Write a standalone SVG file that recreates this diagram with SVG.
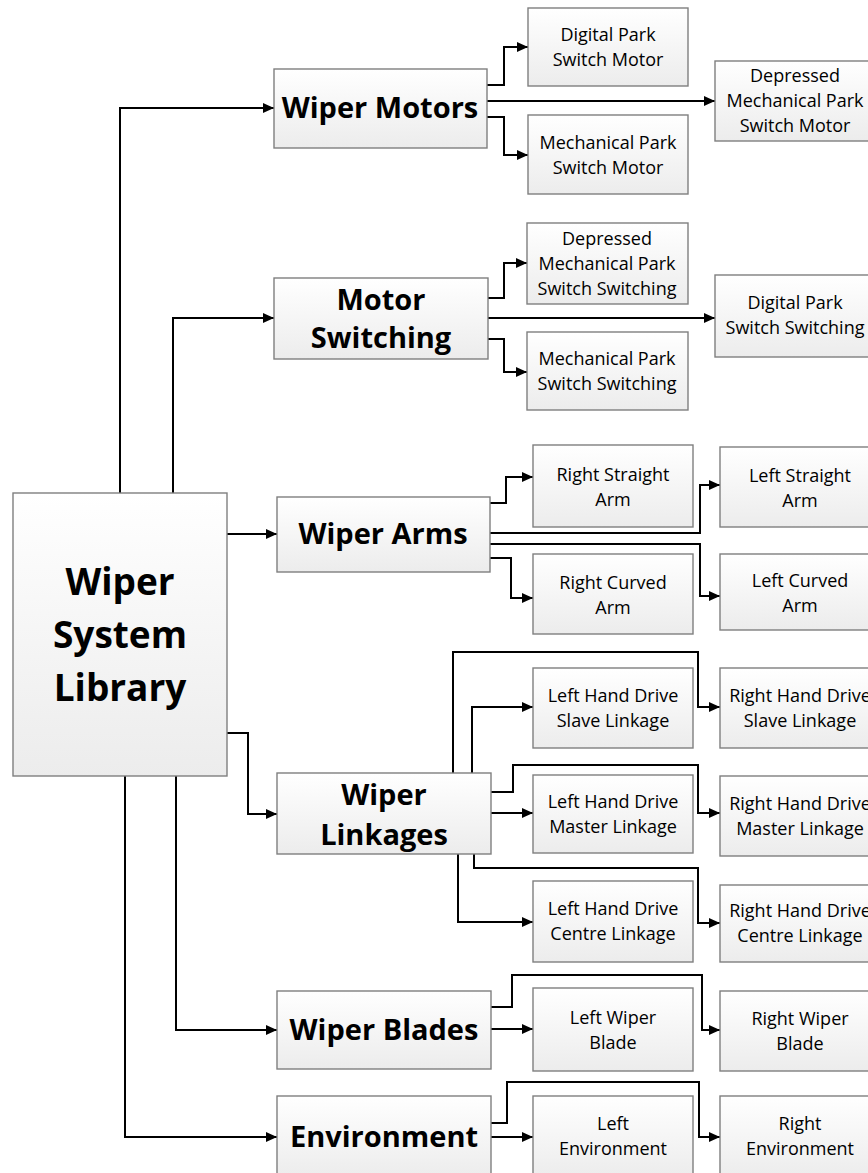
<svg xmlns="http://www.w3.org/2000/svg" width="868" height="1173" viewBox="0 0 868 1173">
  <defs>
    <linearGradient id="boxFill" x1="0" y1="0" x2="0" y2="1">
      <stop offset="0" stop-color="#ffffff"/>
      <stop offset="1" stop-color="#ececec"/>
    </linearGradient>
    <marker id="arrow" markerUnits="userSpaceOnUse" markerWidth="12" markerHeight="12" refX="11" refY="6" orient="auto">
      <path d="M0,1 L11,6 L0,11 z" fill="#000"/>
    </marker>
    <style>
      .box { fill: url(#boxFill); stroke: #7f7f7f; stroke-width: 1.4; }
      .title { font-family: "Open Sans", "Liberation Sans", sans-serif; font-weight: bold; font-size: 29px; fill: #000; text-anchor: middle; }
      .root { font-family: "Open Sans", "Liberation Sans", sans-serif; font-weight: bold; font-size: 37px; fill: #000; text-anchor: middle; }
      .leaf { font-family: "Open Sans", "Liberation Sans", sans-serif; font-size: 18px; fill: #000; text-anchor: middle; }
      .wire { fill: none; stroke: #000; stroke-width: 2; }
      .wire.arr { marker-end: url(#arrow); }
    </style>
  </defs>
  <rect width="868" height="1173" fill="#ffffff"/>

  <!-- connectors -->
  <g id="connectors">
    <!-- root to categories -->
    <path class="wire arr" d="M120,493 V108 H274"/>
    <path class="wire arr" d="M173,493 V318 H274"/>
    <path class="wire arr" d="M227,534 H277"/>
    <path class="wire arr" d="M227,733 H248 V814 H277"/>
    <path class="wire arr" d="M176,776 V1030 H277"/>
    <path class="wire arr" d="M125,776 V1137 H277"/>
    <!-- wiper motors -->
    <path class="wire arr" d="M487,85 H504 V47 H528"/>
    <path class="wire arr" d="M487,101 H715"/>
    <path class="wire arr" d="M487,117 H504 V155 H528"/>
    <!-- motor switching -->
    <path class="wire arr" d="M488,298 H504 V263 H527"/>
    <path class="wire arr" d="M488,318 H715"/>
    <path class="wire arr" d="M488,339 H504 V372 H527"/>
    <!-- wiper arms -->
    <path class="wire arr" d="M490,503 H506 V477 H533"/>
    <path class="wire arr" d="M490,533 H700 V485 H720"/>
    <path class="wire arr" d="M490,544 H700 V596 H720"/>
    <path class="wire arr" d="M490,558 H511 V598 H533"/>
    <!-- wiper linkages -->
    <path class="wire arr" d="M453,773 V652 H698 V707 H720"/>
    <path class="wire arr" d="M472,773 V707 H533"/>
    <path class="wire arr" d="M491,792 H513 V765 H698 V813 H720"/>
    <path class="wire arr" d="M491,813 H533"/>
    <path class="wire arr" d="M474,854 V868 H698 V923 H720"/>
    <path class="wire arr" d="M458,854 V922 H533"/>
    <!-- wiper blades -->
    <path class="wire arr" d="M491,1007 H512 V975 H702 V1030 H720"/>
    <path class="wire arr" d="M491,1029 H533"/>
    <!-- environment -->
    <path class="wire arr" d="M491,1123 H507 V1082 H699 V1137 H720"/>
    <path class="wire arr" d="M491,1137 H533"/>
  </g>

  <!-- root -->
  <g id="wiper-system-library">
    <rect class="box" x="13" y="493" width="214" height="283"/>
    <text class="root" x="120" y="595">Wiper</text>
    <text class="root" x="120" y="648">System</text>
    <text class="root" x="120" y="701">Library</text>
  </g>

  <!-- categories -->
  <g id="wiper-motors">
    <rect class="box" x="274" y="69" width="213" height="79"/>
    <text class="title" x="380" y="118">Wiper Motors</text>
  </g>
  <g id="motor-switching">
    <rect class="box" x="274" y="278" width="214" height="81"/>
    <text class="title" x="381" y="310">Motor</text>
    <text class="title" x="381" y="348">Switching</text>
  </g>
  <g id="wiper-arms">
    <rect class="box" x="277" y="497" width="213" height="75"/>
    <text class="title" x="383" y="544">Wiper Arms</text>
  </g>
  <g id="wiper-linkages">
    <rect class="box" x="277" y="773" width="214" height="81"/>
    <text class="title" x="384" y="805">Wiper</text>
    <text class="title" x="384" y="845">Linkages</text>
  </g>
  <g id="wiper-blades">
    <rect class="box" x="277" y="991" width="214" height="78"/>
    <text class="title" x="384" y="1040">Wiper Blades</text>
  </g>
  <g id="environment">
    <rect class="box" x="277" y="1096" width="214" height="82"/>
    <text class="title" x="384" y="1147">Environment</text>
  </g>

  <!-- motors -->
  <g id="digital-park-switch-motor">
    <rect class="box" x="528" y="8" width="160" height="78"/>
    <text class="leaf" x="608" y="41">Digital Park</text>
    <text class="leaf" x="608" y="66">Switch Motor</text>
  </g>
  <g id="mechanical-park-switch-motor">
    <rect class="box" x="528" y="115" width="160" height="79"/>
    <text class="leaf" x="608" y="149">Mechanical Park</text>
    <text class="leaf" x="608" y="174">Switch Motor</text>
  </g>
  <g id="depressed-mechanical-park-switch-motor">
    <rect class="box" x="715" y="61" width="160" height="80"/>
    <text class="leaf" x="795" y="82">Depressed</text>
    <text class="leaf" x="795" y="107">Mechanical Park</text>
    <text class="leaf" x="795" y="132">Switch Motor</text>
  </g>

  <!-- switching -->
  <g id="depressed-mechanical-park-switch-switching">
    <rect class="box" x="527" y="223" width="161" height="81"/>
    <text class="leaf" x="607" y="245">Depressed</text>
    <text class="leaf" x="607" y="270">Mechanical Park</text>
    <text class="leaf" x="607" y="295">Switch Switching</text>
  </g>
  <g id="mechanical-park-switch-switching">
    <rect class="box" x="527" y="332" width="161" height="78"/>
    <text class="leaf" x="607" y="365">Mechanical Park</text>
    <text class="leaf" x="607" y="390">Switch Switching</text>
  </g>
  <g id="digital-park-switch-switching">
    <rect class="box" x="715" y="275" width="160" height="82"/>
    <text class="leaf" x="795" y="309">Digital Park</text>
    <text class="leaf" x="795" y="334">Switch Switching</text>
  </g>

  <!-- arms -->
  <g id="right-straight-arm">
    <rect class="box" x="533" y="445" width="160" height="82"/>
    <text class="leaf" x="613" y="481">Right Straight</text>
    <text class="leaf" x="613" y="506">Arm</text>
  </g>
  <g id="right-curved-arm">
    <rect class="box" x="533" y="554" width="160" height="80"/>
    <text class="leaf" x="613" y="589">Right Curved</text>
    <text class="leaf" x="613" y="614">Arm</text>
  </g>
  <g id="left-straight-arm">
    <rect class="box" x="720" y="447" width="160" height="80"/>
    <text class="leaf" x="800" y="482">Left Straight</text>
    <text class="leaf" x="800" y="507">Arm</text>
  </g>
  <g id="left-curved-arm">
    <rect class="box" x="720" y="554" width="160" height="76"/>
    <text class="leaf" x="800" y="587">Left Curved</text>
    <text class="leaf" x="800" y="612">Arm</text>
  </g>

  <!-- linkages -->
  <g id="lhd-slave-linkage">
    <rect class="box" x="533" y="668" width="160" height="80"/>
    <text class="leaf" x="613" y="702">Left Hand Drive</text>
    <text class="leaf" x="613" y="727">Slave Linkage</text>
  </g>
  <g id="rhd-slave-linkage">
    <rect class="box" x="720" y="668" width="160" height="80"/>
    <text class="leaf" x="800" y="702">Right Hand Drive</text>
    <text class="leaf" x="800" y="727">Slave Linkage</text>
  </g>
  <g id="lhd-master-linkage">
    <rect class="box" x="533" y="775" width="160" height="78"/>
    <text class="leaf" x="613" y="808">Left Hand Drive</text>
    <text class="leaf" x="613" y="833">Master Linkage</text>
  </g>
  <g id="rhd-master-linkage">
    <rect class="box" x="720" y="776" width="160" height="80"/>
    <text class="leaf" x="800" y="810">Right Hand Drive</text>
    <text class="leaf" x="800" y="835">Master Linkage</text>
  </g>
  <g id="lhd-centre-linkage">
    <rect class="box" x="533" y="881" width="160" height="81"/>
    <text class="leaf" x="613" y="915">Left Hand Drive</text>
    <text class="leaf" x="613" y="940">Centre Linkage</text>
  </g>
  <g id="rhd-centre-linkage">
    <rect class="box" x="720" y="885" width="160" height="77"/>
    <text class="leaf" x="800" y="917">Right Hand Drive</text>
    <text class="leaf" x="800" y="942">Centre Linkage</text>
  </g>

  <!-- blades -->
  <g id="left-wiper-blade">
    <rect class="box" x="533" y="988" width="160" height="83"/>
    <text class="leaf" x="613" y="1024">Left Wiper</text>
    <text class="leaf" x="613" y="1049">Blade</text>
  </g>
  <g id="right-wiper-blade">
    <rect class="box" x="720" y="991" width="160" height="80"/>
    <text class="leaf" x="800" y="1025">Right Wiper</text>
    <text class="leaf" x="800" y="1050">Blade</text>
  </g>

  <!-- environment -->
  <g id="left-environment">
    <rect class="box" x="533" y="1096" width="160" height="82"/>
    <text class="leaf" x="613" y="1130">Left</text>
    <text class="leaf" x="613" y="1155">Environment</text>
  </g>
  <g id="right-environment">
    <rect class="box" x="720" y="1096" width="160" height="82"/>
    <text class="leaf" x="800" y="1130">Right</text>
    <text class="leaf" x="800" y="1155">Environment</text>
  </g>
</svg>
